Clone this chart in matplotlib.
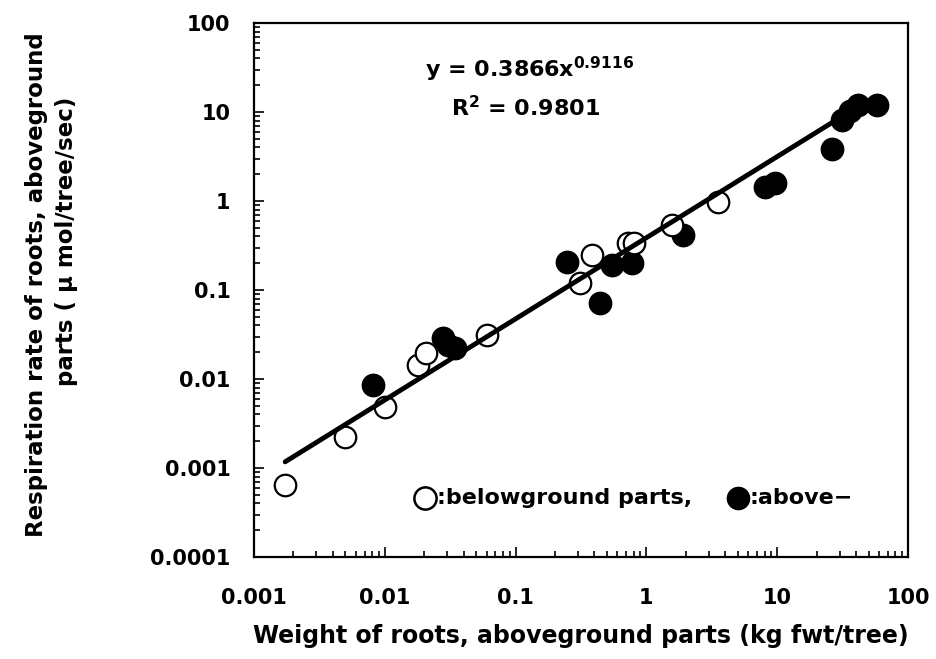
import matplotlib
matplotlib.use('Agg')
from matplotlib import pyplot as plt
from matplotlib.ticker import LogLocator, NullFormatter, FixedLocator, FixedFormatter
import numpy as np

plt.rcParams['font.family'] = ['DejaVu Sans']
plt.rcParams['font.weight'] = 'bold'

# belowground parts (open circles)
below_x = [0.00173, 0.0050, 0.0100, 0.0180, 0.0205, 0.0604, 0.31, 0.384, 0.72, 0.81, 1.57, 3.52]
below_y = [0.00064, 0.00223, 0.00485, 0.0144, 0.0196, 0.0312, 0.12, 0.247, 0.337, 0.337, 0.537, 0.975]

# aboveground parts (filled circles)
above_x = [0.0081, 0.0279, 0.0305, 0.0344, 0.247, 0.44, 0.546, 0.78, 1.9,
           8.1, 9.6, 26.2, 31.3, 36.0, 41.5, 58.0]
above_y = [0.0086, 0.0289, 0.0241, 0.0223, 0.206, 0.071, 0.191, 0.2, 0.415,
           1.45, 1.6, 3.8, 8.2, 10.3, 12.0, 12.0]

# power fit y = a * x^b
fit_a = 0.3866
fit_b = 0.9116
fit_range = [0.00173, 28.0]

x_ticks = [0.001, 0.01, 0.1, 1, 10, 100]
x_labels = ['0.001', '0.01', '0.1', '1', '10', '100']
y_ticks = [0.0001, 0.001, 0.01, 0.1, 1, 10, 100]
y_labels = ['0.0001', '0.001', '0.01', '0.1', '1', '10', '100']

fig = plt.figure(figsize=(9.36, 6.59), dpi=100)
ax = fig.add_axes([254 / 936, 1 - 557 / 659, (908 - 254) / 936, (557 - 23) / 659])
ax.set_xscale('log')
ax.set_yscale('log')
ax.set_xlim(0.001, 100)
ax.set_ylim(0.0001, 100)

ax.scatter(above_x, above_y, s=260, c='black', edgecolors='black', zorder=2)
ax.scatter(below_x, below_y, s=240, c='white', edgecolors='black', linewidths=1.6, zorder=3)

fx = np.logspace(np.log10(fit_range[0]), np.log10(fit_range[1]), 50)
ax.plot(fx, fit_a * fx ** fit_b, color='black', lw=3.5, solid_capstyle='round', zorder=4)

ax.xaxis.set_major_locator(FixedLocator(x_ticks))
ax.xaxis.set_major_formatter(FixedFormatter(x_labels))
ax.yaxis.set_major_locator(FixedLocator(y_ticks))
ax.yaxis.set_major_formatter(FixedFormatter(y_labels))
ax.xaxis.set_minor_locator(LogLocator(base=10, subs=np.arange(2, 10)))
ax.yaxis.set_minor_locator(LogLocator(base=10, subs=np.arange(2, 10)))
ax.xaxis.set_minor_formatter(NullFormatter())
ax.yaxis.set_minor_formatter(NullFormatter())
ax.tick_params(which='both', direction='in', top=False, right=False, width=1.2)
ax.tick_params(which='major', length=7, labelsize=15)
ax.tick_params(which='minor', length=4)
ax.tick_params(axis='x', which='major', pad=22)
ax.tick_params(axis='y', which='major', pad=17)
for lab in ax.get_xticklabels() + ax.get_yticklabels():
    lab.set_fontweight('bold')
for sp in ax.spines.values():
    sp.set_linewidth(1.6)

ax.set_xlabel('Weight of roots, aboveground parts (kg fwt/tree)', fontsize=17,
              fontweight='bold', labelpad=12)

fig.text(37 / 936, 1 - 285 / 659, 'Respiration rate of roots, aboveground', rotation=90,
         ha='center', va='center', fontsize=16.5, fontweight='bold')
fig.text(67 / 936, 1 - 241 / 659, 'parts ( \u03bc mol/tree/sec)', rotation=90,
         ha='center', va='center', fontsize=16.5, fontweight='bold')

fig.text(530 / 936, 1 - 69 / 659, r'y = 0.3866x$^{\mathbf{0.9116}}$', ha='center', va='center',
         fontsize=16, fontweight='bold')
fig.text(526 / 936, 1 - 108 / 659, r'R$^{\mathbf{2}}$ = 0.9801', ha='center', va='center',
         fontsize=16, fontweight='bold')

# legend drawn inside the plot
ax.plot([(425 - 254) / 654], [(557 - 498) / 534], 'o', ms=16, mfc='white', mec='black',
        mew=1.8, transform=ax.transAxes, clip_on=False)
ax.text((437 - 254) / 654, (557 - 498) / 534, ':belowground parts,', transform=ax.transAxes,
        ha='left', va='center', fontsize=16, fontweight='bold')
ax.plot([(738 - 254) / 654], [(557 - 498) / 534], 'o', ms=16, mfc='black', mec='black',
        transform=ax.transAxes, clip_on=False)
ax.text((750 - 254) / 654, (557 - 498) / 534, ':above\u2212', transform=ax.transAxes,
        ha='left', va='center', fontsize=16, fontweight='bold')

fig.savefig('out.png', dpi=100)
